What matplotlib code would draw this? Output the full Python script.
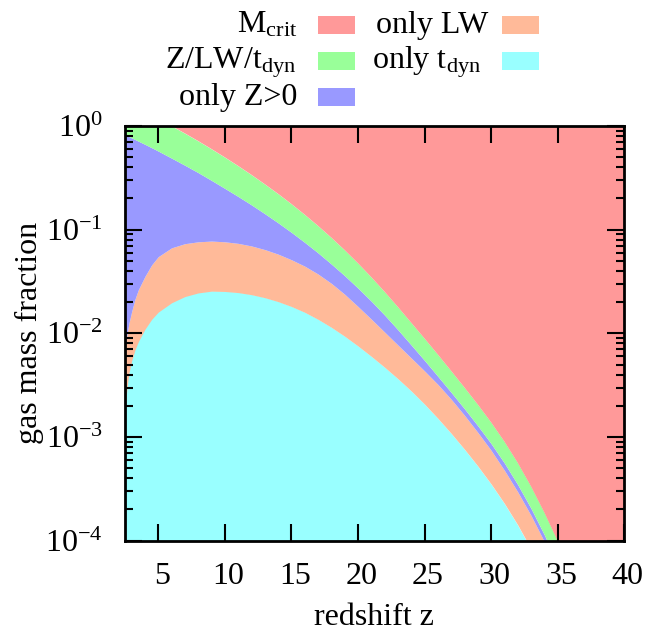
"""Gas mass fraction regimes versus redshift (filled bands on a log axis)."""
import numpy as np
import matplotlib.pyplot as plt
import matplotlib.transforms as mtransforms
from matplotlib.patches import Rectangle
from matplotlib.ticker import LogLocator, NullLocator, FixedLocator

plt.rcParams['font.family'] = ['Liberation Serif', 'DejaVu Serif']
plt.rcParams['mathtext.default'] = 'regular'
plt.rcParams['font.size'] = 23

# redshift grid the boundaries were read on
redshift = [2.5, 2.6, 2.7, 2.8, 3.0, 3.25, 3.5, 4, 4.5, 5,
            6, 7, 8, 9, 10, 11, 12, 13, 14, 15,
            16, 17, 18, 19, 20, 21, 22, 23, 24, 25,
            26, 27, 28, 29, 30, 31, 32, 33, 34, 35,
            36, 38, 40]

# log10 of the gas mass fraction at the top of each band
log_tdyn_top = [-2.78, -2.60, -2.47, -2.38, -2.265, -2.16, -2.08, -1.96, -1.865, -1.795,
                -1.705, -1.645, -1.610, -1.593, -1.596, -1.607, -1.627, -1.656, -1.694, -1.741,
                -1.797, -1.865, -1.942, -2.028, -2.122, -2.222, -2.327, -2.438, -2.556, -2.683,
                -2.820, -2.965, -3.118, -3.280, -3.453, -3.641, -3.848, -4.080, -4.34, -4.62,
                -4.92, -5.55, -6.2]
log_lw_top = [-2.14, -2.05, -1.97, -1.90, -1.79, -1.67, -1.58, -1.45, -1.34, -1.26,
              -1.175, -1.135, -1.117, -1.110, -1.117, -1.132, -1.157, -1.192, -1.236, -1.290,
              -1.352, -1.428, -1.518, -1.623, -1.741, -1.863, -1.988, -2.113, -2.238, -2.363,
              -2.493, -2.636, -2.791, -2.956, -3.129, -3.322, -3.530, -3.758, -4.011, -4.29,
              -4.60, -5.25, -5.95]
log_z_top = [-0.085, -0.091, -0.097, -0.103, -0.115, -0.130, -0.146, -0.177, -0.209, -0.242,
             -0.310, -0.379, -0.450, -0.525, -0.602, -0.680, -0.761, -0.846, -0.934, -1.026,
             -1.123, -1.224, -1.332, -1.444, -1.564, -1.690, -1.824, -1.966, -2.113, -2.262,
             -2.415, -2.570, -2.728, -2.892, -3.064, -3.252, -3.460, -3.690, -3.945, -4.225,
             -4.52, -5.15, -5.85]
log_all_top = [0.225, 0.219, 0.213, 0.207, 0.195, 0.180, 0.165, 0.133, 0.101, 0.068,
               0.0, -0.071, -0.145, -0.222, -0.302, -0.385, -0.471, -0.561, -0.654, -0.752,
               -0.855, -0.963, -1.077, -1.197, -1.324, -1.458, -1.599, -1.746, -1.898, -2.050,
               -2.205, -2.363, -2.523, -2.687, -2.859, -3.045, -3.250, -3.478, -3.730, -4.005,
               -4.30, -4.92, -5.6]

labels = ['M$_{crit}$', 'Z/LW/t$_{dyn}$', 'only Z>0', 'only LW', 'only t$_{dyn}$']
colors = ['#ff9999', '#99ff99', '#9999ff', '#ffba99', '#99ffff']

W, H = 658, 632
fig = plt.figure(figsize=(W / 100, H / 100), dpi=100)
ax = fig.add_axes([125 / W, 1 - 540.7 / H, 499.3 / W, 414.7 / H])

z = np.array(redshift)
b1 = 10 ** np.array(log_tdyn_top)
b2 = 10 ** np.array(log_lw_top)
b3 = 10 ** np.array(log_z_top)
b4 = 10 ** np.array(log_all_top)
floor = np.full_like(z, 1e-8)
ceil = np.full_like(z, 10.0)

ax.fill_between(z, floor, b1, color=colors[4], lw=0)
ax.fill_between(z, b1, b2, color=colors[3], lw=0)
ax.fill_between(z, b2, b3, color=colors[2], lw=0)
ax.fill_between(z, b3, b4, color=colors[1], lw=0)
ax.fill_between(z, b4, ceil, color=colors[0], lw=0)

ax.set_yscale('log')
ax.set_xlim(2.5, 40)
ax.set_ylim(1e-4, 1)

xt = [5, 10, 15, 20, 25, 30, 35, 40]
ax.set_xticks(xt)
ax.set_xticklabels([str(t) for t in xt])
ax.xaxis.set_minor_locator(NullLocator())
yt = [1e-4, 1e-3, 1e-2, 1e-1, 1]
ax.yaxis.set_major_locator(FixedLocator(yt))
ax.set_yticklabels(['$10^{-4}$', '$10^{-3}$', '$10^{-2}$', '$10^{-1}$', '$10^{0}$'])
ax.yaxis.set_minor_locator(LogLocator(base=10, subs=np.arange(2, 10)))

ax.tick_params(which='both', direction='in', top=True, right=True, width=1.5)
ax.tick_params(which='major', length=12, labelsize=23)
ax.tick_params(which='minor', length=6)
ax.tick_params(axis='x', pad=15.5)
ax.tick_params(axis='y', pad=16)
for s in ax.spines.values():
    s.set_linewidth(2)

# gnuplot puts the x labels a few pixels right of their ticks
shift = mtransforms.ScaledTranslation(3.5 / 100, 0, fig.dpi_scale_trans)
for lab in ax.get_xticklabels():
    lab.set_transform(lab.get_transform() + shift)

fig.text(374 / W, 1 - 625 / H, 'redshift z', ha='center', va='baseline', fontsize=23)
fig.text(29.5 / W, 1 - 333 / H, 'gas mass fraction', ha='center', va='center',
         rotation=90, fontsize=23)

# key, drawn by hand in gnuplot style (text right aligned, swatch on the right)
text_right = [297, 297, 297, 488, 481]
box_left = [318, 318, 318, 502, 502]
row_mid = [25, 61, 97, 25, 61]
for lab, col, tx, bx, yc in zip(labels, colors, text_right, box_left, row_mid):
    fig.text(tx / W, 1 - (yc + 7.5) / H, lab, ha='right', va='baseline', fontsize=23)
    fig.add_artist(Rectangle((bx / W, 1 - (yc + 9) / H), 37 / W, 18 / H,
                             transform=fig.transFigure, color=col, lw=0))

fig.savefig('out.png', dpi=100)
